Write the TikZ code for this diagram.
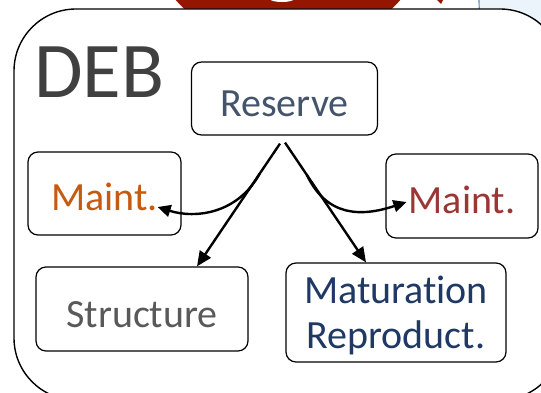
\documentclass[tikz,border=0pt]{standalone}
\usepackage{fontspec}
\setmainfont{Carlito}[Ligatures=NoCommon]
\usepackage{tikz}
\usetikzlibrary{arrows.meta}
\usepackage{xcolor}
\definecolor{debgray}{HTML}{404040}
\definecolor{resblue}{HTML}{44546A}
\definecolor{maintorange}{HTML}{C55A11}
\definecolor{maintred}{HTML}{9A3735}
\definecolor{strgray}{HTML}{595959}
\definecolor{matblue}{HTML}{1F3864}
\definecolor{headred}{HTML}{951600}
\definecolor{paleblue}{HTML}{EBF3FB}
\definecolor{edgeblue}{HTML}{5B8BC0}

\begin{document}
\begin{tikzpicture}[x=1pt,y=-1pt,>={Triangle[length=15pt,width=13pt]},
  box/.style={draw,line width=1.2pt,rounded corners=10pt,inner sep=0pt,align=center,
    font=\fontsize{40}{45}\selectfont,text depth=0pt},
  arr/.style={->,line width=2.4pt}]
\useasboundingbox (0,0) rectangle (541,393);
\clip (0,0) rectangle (541,393);
% shapes behind the frame
\fill[headred] (288,-98) circle (149pt);
\fill[white] (282,-1) ellipse (12pt and 3pt);
\fill[headred] (437,0) -- (443,0) -- (441,4) -- cycle;
\filldraw[fill=paleblue,draw=edgeblue,line width=1.2pt] (479,-5) -- (481,160) -- (570,160) -- (570,-5) -- cycle;
\draw[fill=white,line width=1.4pt,rounded corners=62pt] (14,9) rectangle (562,400);
% title
\node[font=\fontsize{79}{90}\selectfont,text=debgray,anchor=base west,inner sep=0pt] (deb) at (34,98) {DEB};
% boxes
\node[box,minimum width=186pt,minimum height=73pt,text height=37pt,text=resblue] (res) at (284.5,98.5) {Reserve};
\node[box,minimum width=153pt,minimum height=83pt,text height=35pt,text=maintorange] (mL) at (104.5,193.5) {Maint.};
\node[box,minimum width=152pt,minimum height=84pt,text height=34pt,text=maintred] (mR) at (462,196) {Maint.};
\node[box,minimum width=212pt,minimum height=84pt,text height=36pt,text=strgray] (str) at (142,309) {Structure};
\node[box,minimum width=220pt,minimum height=99pt,text depth=-10pt,text=matblue] (mat) at (396,312.5) {Maturation\\Reproduct.};
% arrows
\draw[arr] ([xshift=-4.5pt,yshift=-8pt]res.south) -- coordinate[pos=0.245] (forkL) ([xshift=55pt]str.north);
\draw[arr] ([xshift=0.5pt,yshift=-7pt]res.south) -- coordinate[pos=0.27] (forkR) ([xshift=-30pt]mat.north);
\draw[arr,>={Triangle[length=13pt,width=12pt]}] (forkL) .. controls +(-22,40) and +(38,12) .. ([xshift=-24pt,yshift=-13.5pt]mL.east);
\draw[arr,>={Triangle[length=13pt,width=12pt]}] (forkR) .. controls +(20,42) and +(-45,15) .. ([xshift=21pt,yshift=-6pt]mR.west);
\end{tikzpicture}
\end{document}
